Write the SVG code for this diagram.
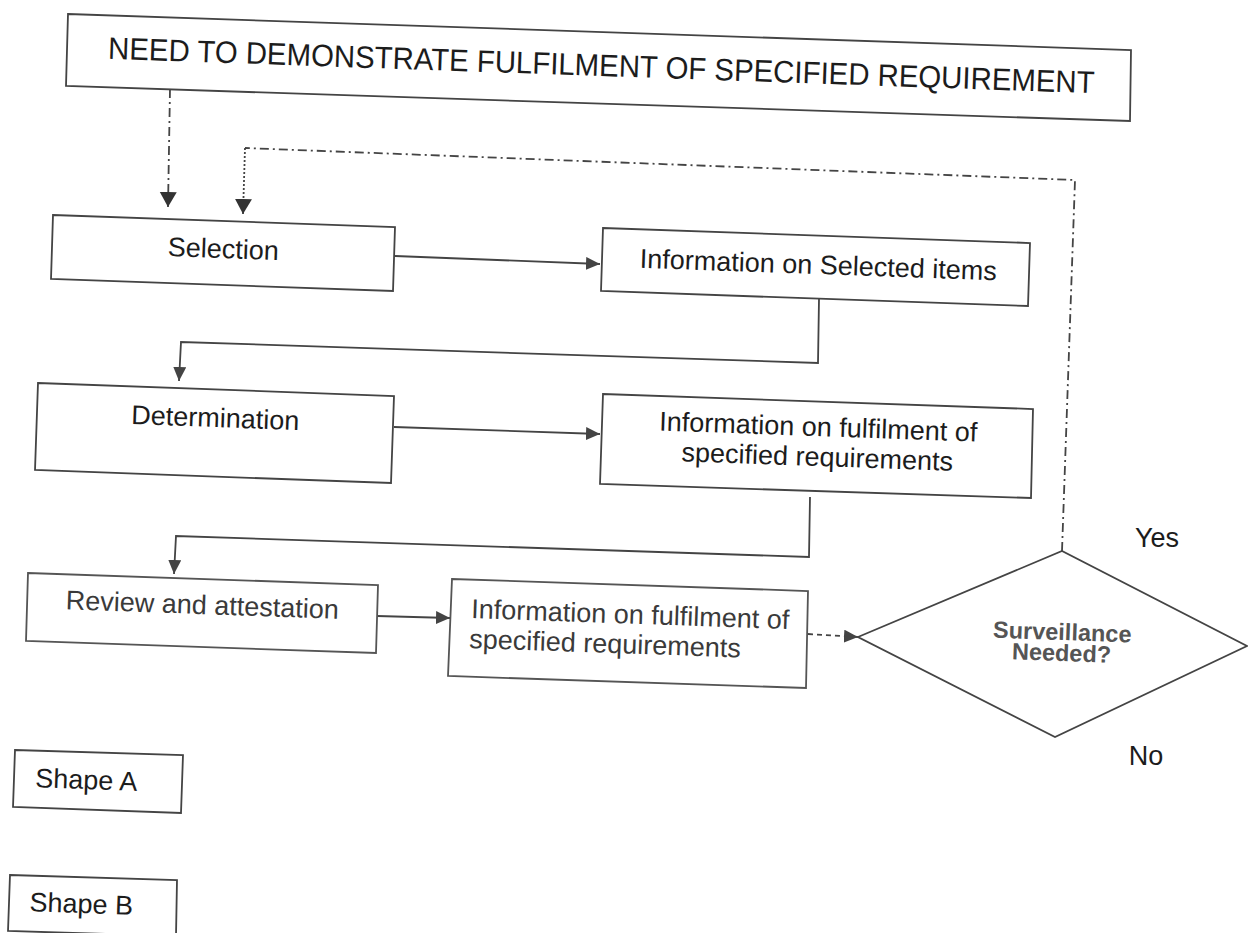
<svg xmlns="http://www.w3.org/2000/svg" width="1248" height="933" viewBox="0 0 1248 933">
<style>
.box{fill:#fff;stroke:#444;stroke-width:1.8}
.boxl{fill:#fff;stroke:#555;stroke-width:1.8}
.t{font-family:"Liberation Sans",Arial,sans-serif;font-size:27px;fill:#1c1c1c}
.tl{font-family:"Liberation Sans",Arial,sans-serif;font-size:27px;fill:#3a3a3a}
.tb{font-family:"Liberation Sans",Arial,sans-serif;font-size:23.5px;font-weight:bold;fill:#555}
.c{fill:none;stroke:#444;stroke-width:1.8}
.dd{stroke-dasharray:9 4 2 4}
.dot{stroke-dasharray:2 2}
.dash{stroke-dasharray:5 4}
</style>
<defs>
<marker id="ahBig" markerUnits="userSpaceOnUse" markerWidth="16" markerHeight="18" refX="15" refY="8.5" orient="auto"><path d="M0,0 L15,8.5 L0,17 Z" fill="#333"/></marker>
<marker id="ah" markerUnits="userSpaceOnUse" markerWidth="15" markerHeight="13" refX="14" refY="6.5" orient="auto"><path d="M0,0 L14,6.5 L0,13 Z" fill="#444"/></marker>
</defs>
<rect width="1248" height="933" fill="#fff"/>
<g id="connectors">
<path class="c dd" d="M170,89 L168,207" marker-end="url(#ahBig)"/>
<path class="c dd" d="M1062,551 L1075,180 L245,148"/>
<path class="c dot" d="M245,148 L243,214" marker-end="url(#ahBig)"/>
<path class="c" d="M395,256 L600,264" marker-end="url(#ah)"/>
<path class="c" d="M819,299 L818,363 L181,342 L179,381" marker-end="url(#ah)"/>
<path class="c" d="M394,427 L600,434" marker-end="url(#ah)"/>
<path class="c" d="M810,497 L809,557 L176,536 L174,574" marker-end="url(#ah)"/>
<path class="c" d="M377,616 L450,618" marker-end="url(#ah)"/>
<path class="c dash" d="M808,634 L858,637" marker-end="url(#ah)"/>
</g>
<g id="need">
<polygon class="box" points="68,14 1131,50 1130,121 66,86"/>
<text class="t" style="font-size:31px" x="601" y="76" text-anchor="middle" textLength="987" lengthAdjust="spacingAndGlyphs" transform="rotate(2 601 76)">NEED TO DEMONSTRATE FULFILMENT OF SPECIFIED REQUIREMENT</text>
</g>
<g id="selection">
<polygon class="box" points="53,215 395,227 393,291 51,279"/>
<text class="t" x="223" y="258" text-anchor="middle" transform="rotate(2 223 258)">Selection</text>
</g>
<g id="info-selected">
<polygon class="box" points="603,228 1030,243 1028,306 601,291"/>
<text class="t" x="818" y="274" text-anchor="middle" transform="rotate(2 818 274)">Information on Selected items</text>
</g>
<g id="determination">
<polygon class="box" points="38,383 394,396 391,483 35,470"/>
<text class="t" x="215" y="427" text-anchor="middle" transform="rotate(2 215 427)">Determination</text>
</g>
<g id="info-fulfilment-1">
<polygon class="box" points="603,394 1033,409 1031,498 600,484"/>
<text class="t" text-anchor="middle" transform="rotate(2 818 436)"><tspan x="818" y="436">Information on fulfilment of</tspan><tspan x="818" y="466">specified requirements</tspan></text>
</g>
<g id="review">
<polygon class="boxl" points="28,573 378,585 376,653 26,641"/>
<text class="tl" x="202" y="614" text-anchor="middle" transform="rotate(2 202 614)">Review and attestation</text>
</g>
<g id="info-fulfilment-2">
<polygon class="boxl" points="452,579 808,591 806,688 448,676"/>
<text class="tl" transform="rotate(2 471 618)"><tspan x="471" y="618">Information on fulfilment of</tspan><tspan x="470" y="648">specified requirements</tspan></text>
</g>
<g id="surveillance">
<polygon class="box" points="858,637 1062,551 1247,646 1055,737"/>
<text class="tb" text-anchor="middle" transform="rotate(2 1062 640)"><tspan x="1062" y="640">Surveillance</tspan><tspan x="1062" y="661">Needed?</tspan></text>
</g>
<g id="yes">
<text class="t" x="1157" y="547" text-anchor="middle">Yes</text>
</g>
<g id="no">
<text class="t" x="1146" y="765" text-anchor="middle">No</text>
</g>
<g id="shape-a">
<polygon class="box" points="15,750 183,755 181,813 13,807"/>
<text class="t" x="86" y="789" text-anchor="middle" transform="rotate(2 86 789)">Shape A</text>
</g>
<g id="shape-b">
<polygon class="box" points="10,875 177,880 176,936 8,931"/>
<text class="t" x="81" y="913" text-anchor="middle" transform="rotate(2 81 913)">Shape B</text>
</g>
</svg>
